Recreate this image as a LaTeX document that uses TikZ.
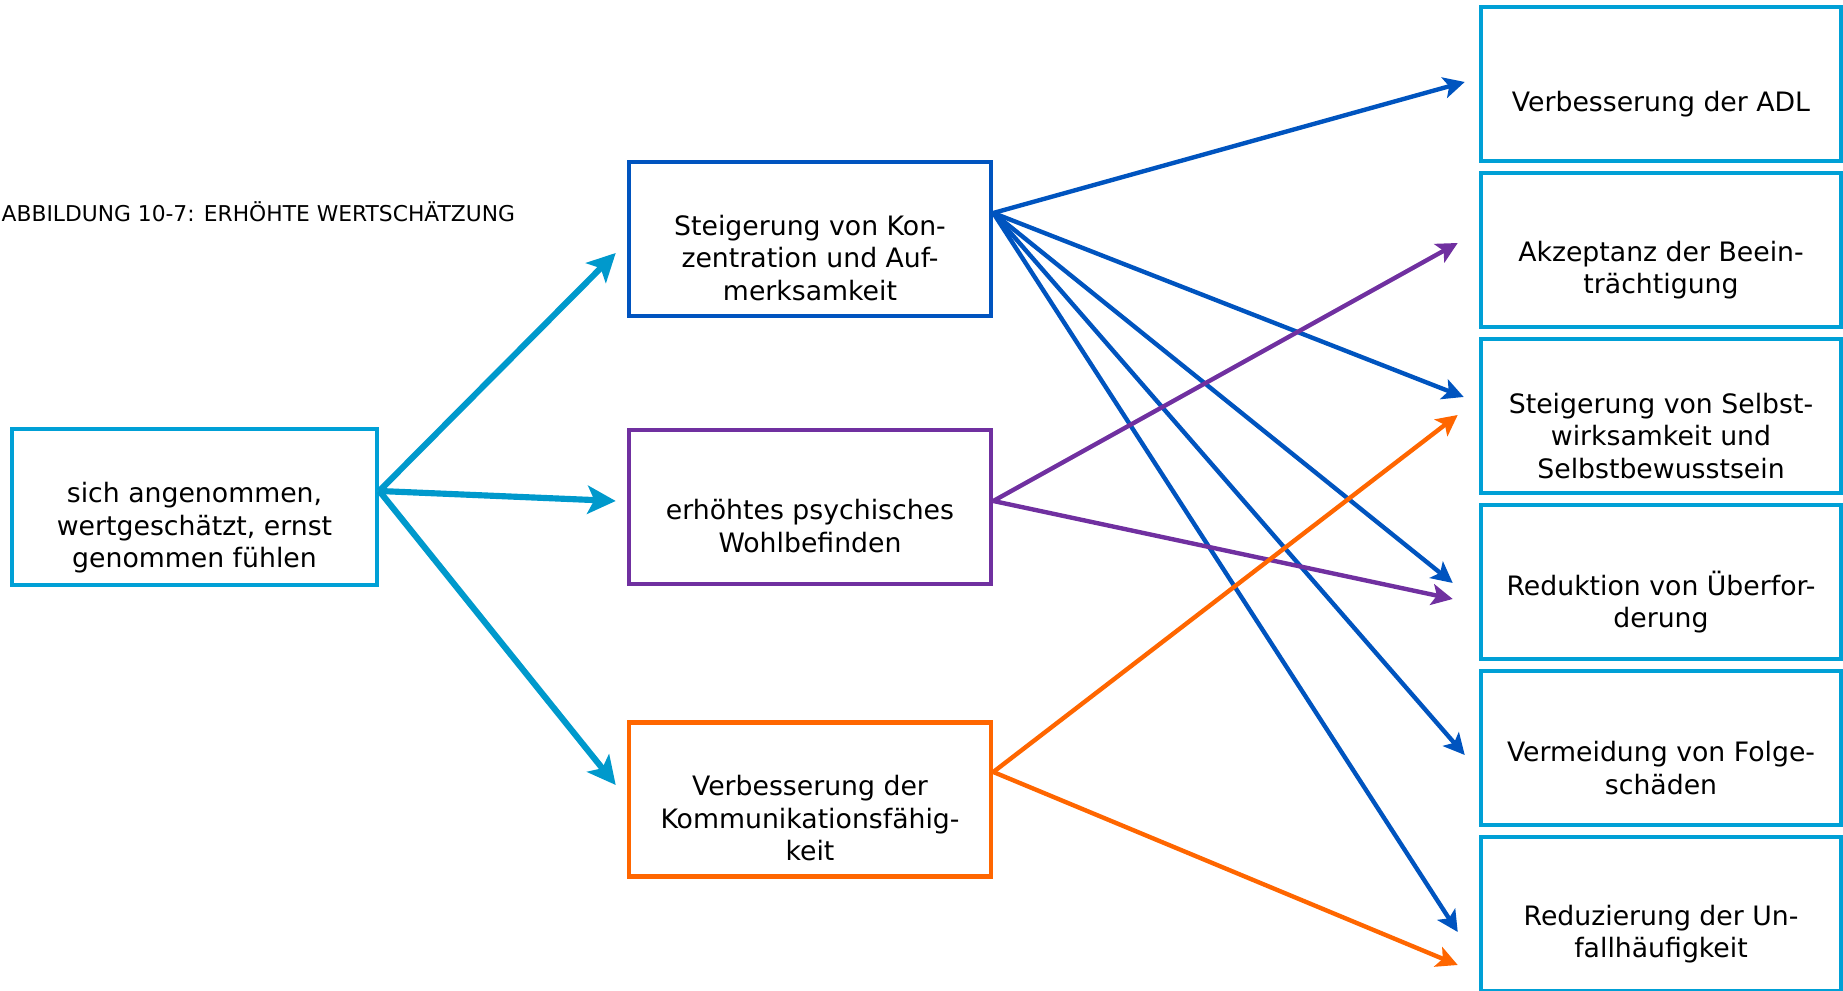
\documentclass[tikz,border=0pt]{standalone}
\usepackage{fontspec}
\setmainfont{DejaVu Sans}
\usetikzlibrary{arrows.meta}

\definecolor{kastencyan}{RGB}{0,160,214}
\definecolor{pfeilcyan}{RGB}{0,153,204}
\definecolor{dunkelblau}{RGB}{0,84,191}
\definecolor{lila}{RGB}{112,48,160}
\definecolor{orangerot}{RGB}{255,102,0}

\begin{document}
\begin{tikzpicture}[>=Stealth,
  kasten/.style={draw, line width=1.3pt, minimum width=3.62cm, minimum height=1.54cm, inner sep=0pt},
  txt/.style={align=center, font=\fontsize{7.6}{9.25}\selectfont, inner sep=0pt},
  pfeil/.style={->, line width=1.25pt, >={Stealth[length=6pt,width=6pt,inset=1.4pt]}},
  dickpfeil/.style={->, line width=1.75pt, color=pfeilcyan, >={Stealth[length=8pt,width=8pt,inset=1.9pt]}}]

\useasboundingbox (0,0) rectangle (18.43,9.91);

% Title of the figure
\node[anchor=west, inner sep=0pt, font=\fontsize{6.2}{7.4}\selectfont] (titel) at (0.01,7.79) {ABBILDUNG 10-7: ERHÖHTE WERTSCHÄTZUNG};

% Draw the starting box on the left
\node[kasten, draw=kastencyan, minimum width=3.65cm, minimum height=1.56cm] (gefuehl) at (1.945,4.84) {};
\node[txt] at ([yshift=-0.21cm]gefuehl.center) {sich angenommen,\\wertgeschätzt, ernst\\genommen fühlen};

% Draw the three boxes in the middle
\node[kasten, draw=dunkelblau] (konz) at (8.10,7.52) {};
\node[txt] at ([yshift=-0.19cm]konz.center) {Steigerung von Kon-\\zentration und Auf-\\merksamkeit};
\node[kasten, draw=lila] (wohl) at (8.10,4.84) {};
\node[txt] at ([yshift=-0.19cm]wohl.center) {erhöhtes psychisches\\Wohlbefinden};
\node[kasten, draw=orangerot] (komm) at (8.10,1.915) {};
\node[txt] at ([yshift=-0.19cm]komm.center) {Verbesserung der\\Kommunikationsfähig-\\keit};

% Draw the six result boxes on the right
\node[kasten, draw=kastencyan, minimum width=3.6cm] (adl) at (16.61,9.07) {};
\node[txt] at ([yshift=-0.20cm]adl.center) {Verbesserung der ADL};
\node[kasten, draw=kastencyan, minimum width=3.6cm] (akz) at (16.61,7.41) {};
\node[txt] at ([yshift=-0.20cm]akz.center) {Akzeptanz der Beein-\\trächtigung};
\node[kasten, draw=kastencyan, minimum width=3.6cm] (selbst) at (16.61,5.75) {};
\node[txt] at ([yshift=-0.20cm]selbst.center) {Steigerung von Selbst-\\wirksamkeit und\\Selbstbewusstsein};
\node[kasten, draw=kastencyan, minimum width=3.6cm] (ueber) at (16.61,4.09) {};
\node[txt] at ([yshift=-0.20cm]ueber.center) {Reduktion von Überfor-\\derung};
\node[kasten, draw=kastencyan, minimum width=3.6cm] (folge) at (16.61,2.43) {};
\node[txt] at ([yshift=-0.20cm]folge.center) {Vermeidung von Folge-\\schäden};
\node[kasten, draw=kastencyan, minimum width=3.6cm] (unfall) at (16.61,0.77) {};
\node[txt] at ([yshift=-0.20cm]unfall.center) {Reduzierung der Un-\\fallhäufigkeit};

% Arrows from the left box to the middle
\draw[dickpfeil] ([yshift=0.16cm]gefuehl.east) -- ([xshift=-0.11cm,yshift=-0.14cm]konz.west);
\draw[dickpfeil] ([yshift=0.16cm]gefuehl.east) -- ([xshift=-0.11cm,yshift=0.06cm]wohl.west);
\draw[dickpfeil] ([yshift=0.16cm]gefuehl.east) -- ([xshift=-0.11cm,yshift=0.145cm]komm.west);

% Arrows from the middle boxes to the results
\draw[pfeil, dunkelblau] ([yshift=0.26cm]konz.east) -- ([xshift=-0.14cm,yshift=0.02cm]adl.west);
\draw[pfeil, dunkelblau] ([yshift=0.26cm]konz.east) -- ([xshift=-0.15cm,yshift=0.19cm]selbst.west);
\draw[pfeil, dunkelblau] ([yshift=0.26cm]konz.east) -- ([xshift=-0.26cm,yshift=-0.01cm]ueber.west);
\draw[pfeil, dunkelblau] ([yshift=0.26cm]konz.east) -- ([xshift=-0.14cm,yshift=-0.07cm]folge.west);
\draw[pfeil, dunkelblau] ([yshift=0.26cm]konz.east) -- ([xshift=-0.21cm,yshift=-0.18cm]unfall.west);

\draw[pfeil, lila] ([yshift=0.06cm]wohl.east) -- ([xshift=-0.21cm,yshift=0.07cm]akz.west);
\draw[pfeil, lila] ([yshift=0.06cm]wohl.east) -- ([xshift=-0.26cm,yshift=-0.17cm]ueber.west);

\draw[pfeil, orangerot] ([yshift=0.275cm]komm.east) -- ([xshift=-0.21cm,yshift=0.01cm]selbst.west);
\draw[pfeil, orangerot] ([yshift=0.275cm]komm.east) -- ([xshift=-0.21cm,yshift=-0.51cm]unfall.west);

\end{tikzpicture}
\end{document}
